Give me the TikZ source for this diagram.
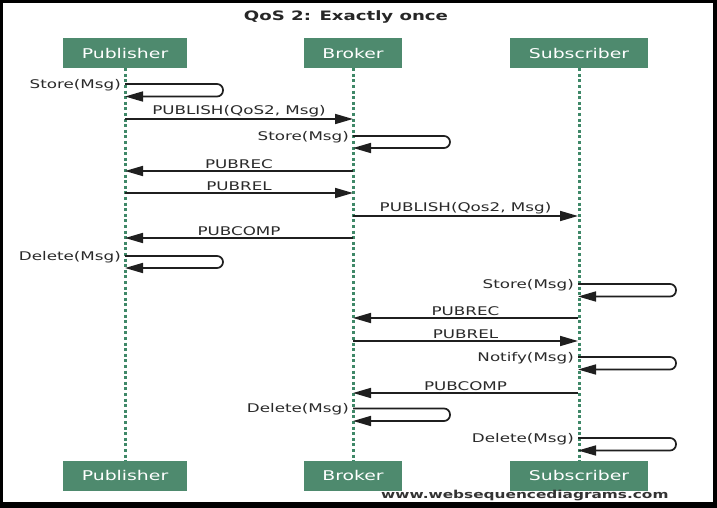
\documentclass[tikz,border=0pt]{standalone}
\usepackage{fontspec}
\setmainfont{DejaVu Sans}
\newfontfamily\wsd[FakeStretch=1.4]{DejaVu Sans}
\usetikzlibrary{arrows.meta}
\definecolor{wsdgreen}{HTML}{4E8A6E}
\definecolor{wsdline}{HTML}{3F8868}
\definecolor{wsdtext}{HTML}{2A2A2A}
\tikzset{
  actor/.style={fill=wsdgreen, text=white, minimum height=30bp, inner sep=0pt,
    font=\wsd\fontsize{13.5}{15}\selectfont},
  lifeline/.style={draw=wsdline, line width=3bp, dash pattern=on 3bp off 2.6bp},
  msg/.style={draw=black!88, line width=1.7bp, -{Triangle[length=18bp,width=10bp]}},
  selfmsg/.style={msg, rounded corners=6bp},
  lbl/.style={font=\wsd\fontsize{12}{14}\selectfont, text=wsdtext, inner sep=1bp},
}
\begin{document}
\begin{tikzpicture}[x=1bp,y=-1bp]
\useasboundingbox (0,0) rectangle (717,508);
\fill[black] (0,0) rectangle (717,508);
\fill[white] (3,3) rectangle (713,502);

\node[font=\wsd\bfseries\fontsize{13}{15}\selectfont, text=black!85] (title) at (346,17) {QoS 2: Exactly once};

\node[actor, minimum width=124bp] (pubT) at (125,53) {Publisher};
\node[actor, minimum width=98bp]  (brkT) at (353,53) {Broker};
\node[actor, minimum width=138bp] (subT) at (579,53) {Subscriber};
\node[actor, minimum width=124bp] (pubB) at (125,475.5) {Publisher};
\node[actor, minimum width=98bp]  (brkB) at (353,475.5) {Broker};
\node[actor, minimum width=138bp] (subB) at (579,475.5) {Subscriber};

\draw[lifeline] (pubT.south) -- (pubB.north);
\draw[lifeline] (brkT.south) -- (brkB.north);
\draw[lifeline] (subT.south) -- (subB.north);

% coordinates on lifelines
\coordinate (P1a) at (125,84);  \coordinate (P1b) at (125,96.5);
\coordinate (P2)  at (125,119); \coordinate (B2) at (353,119);
\coordinate (B3a) at (353,136); \coordinate (B3b) at (353,148);
\coordinate (B4)  at (353,171); \coordinate (P4) at (125,171);
\coordinate (P5)  at (125,193); \coordinate (B5) at (353,193);
\coordinate (B6)  at (353,216); \coordinate (S6) at (578,216);
\coordinate (B7)  at (353,238); \coordinate (P7) at (125,238);
\coordinate (P8a) at (125,256); \coordinate (P8b) at (125,268);
\coordinate (S9a) at (578,284); \coordinate (S9b) at (578,296.5);
\coordinate (S10) at (578,318); \coordinate (B10) at (353,318);
\coordinate (B11) at (353,341); \coordinate (S11) at (578,341);
\coordinate (S12a) at (578,357); \coordinate (S12b) at (578,369.5);
\coordinate (S13) at (578,393); \coordinate (B13) at (353,393);
\coordinate (B14a) at (353,408.5); \coordinate (B14b) at (353,421);
\coordinate (S15a) at (578,438); \coordinate (S15b) at (578,450.5);

% messages
\draw[selfmsg] (P1a) -- ++(98,0) -- ++(0,12.5) -- (P1b);
\node[lbl, anchor=east] (l1) at ([xshift=-3bp,yshift=-1bp]P1a) {Store(Msg)};

\draw[msg] (P2) -- node[lbl, above] (l2) {PUBLISH(QoS2, Msg)} (B2);

\draw[selfmsg] (B3a) -- ++(97,0) -- ++(0,12) -- (B3b);
\node[lbl, anchor=east] (l3) at ([xshift=-3bp,yshift=-1bp]B3a) {Store(Msg)};

\draw[msg] (B4) -- node[lbl, above] (l4) {PUBREC} (P4);
\draw[msg] (P5) -- node[lbl, above] (l5) {PUBREL} (B5);
\draw[msg] (B6) -- node[lbl, above] (l6) {PUBLISH(Qos2, Msg)} (S6);
\draw[msg] (B7) -- node[lbl, above] (l7) {PUBCOMP} (P7);

\draw[selfmsg] (P8a) -- ++(98,0) -- ++(0,12) -- (P8b);
\node[lbl, anchor=east] (l8) at ([xshift=-3bp,yshift=-1bp]P8a) {Delete(Msg)};

\draw[selfmsg] (S9a) -- ++(98,0) -- ++(0,12.5) -- (S9b);
\node[lbl, anchor=east] (l9) at ([xshift=-3bp,yshift=-1bp]S9a) {Store(Msg)};

\draw[msg] (S10) -- node[lbl, above] (l10) {PUBREC} (B10);
\draw[msg] (B11) -- node[lbl, above] (l11) {PUBREL} (S11);

\draw[selfmsg] (S12a) -- ++(98,0) -- ++(0,12.5) -- (S12b);
\node[lbl, anchor=east] (l12) at ([xshift=-3bp,yshift=-1bp]S12a) {Notify(Msg)};

\draw[msg] (S13) -- node[lbl, above] (l13) {PUBCOMP} (B13);

\draw[selfmsg] (B14a) -- ++(97,0) -- ++(0,12.5) -- (B14b);
\node[lbl, anchor=east] (l14) at ([xshift=-3bp,yshift=-1bp]B14a) {Delete(Msg)};

\draw[selfmsg] (S15a) -- ++(98,0) -- ++(0,12.5) -- (S15b);
\node[lbl, anchor=east] (l15) at ([xshift=-3bp,yshift=-1bp]S15a) {Delete(Msg)};

\node[font=\wsd\bfseries\fontsize{11}{13}\selectfont, text=black!80, anchor=west, inner sep=0pt] (site) at (381,496) {www.websequencediagrams.com};
\end{tikzpicture}
\end{document}
